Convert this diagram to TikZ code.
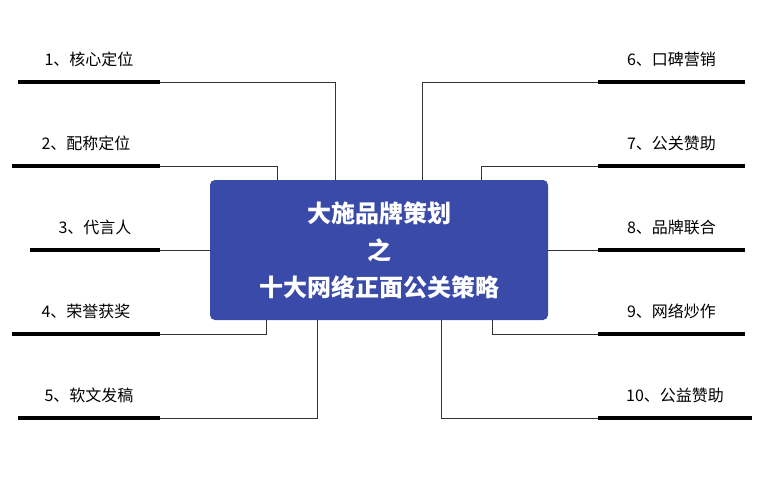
\documentclass[tikz,border=0pt]{standalone}
\usepackage{fontspec}
\setmainfont{Noto Sans CJK SC}
\begin{document}
\begin{tikzpicture}[x=1pt,y=-1pt]
	\useasboundingbox (0,0) rectangle (763,485);
	\tikzstyle{bar}=[line width=3.5pt,black];
	\tikzstyle{link}=[line width=0.7pt,black!80];
	\tikzstyle{lbl}=[font=\fontsize{16}{18}\selectfont,above,yshift=12pt,inner sep=1pt];
	\node (hub) [fill={rgb,255:red,58;green,74;blue,168},rounded corners=5pt,minimum width=338pt,minimum height=140pt,text=white,align=center,font=\fontsize{24}{37}\selectfont\bfseries] at (379,250) {大施品牌策划\\之\\十大网络正面公关策略};
	% left side
	\path (18 , 82) coordinate (l1s) (160, 82) coordinate (l1e);
	\path (12 ,166) coordinate (l2s) (160,166) coordinate (l2e);
	\path (30 ,250) coordinate (l3s) (160,250) coordinate (l3e);
	\path (12 ,334) coordinate (l4s) (160,334) coordinate (l4e);
	\path (18 ,418) coordinate (l5s) (160,418) coordinate (l5e);
	% right side
	\path (598, 82) coordinate (r6s) (745, 82) coordinate (r6e);
	\path (598,166) coordinate (r7s) (745,166) coordinate (r7e);
	\path (598,250) coordinate (r8s) (745,250) coordinate (r8e);
	\path (598,334) coordinate (r9s) (745,334) coordinate (r9e);
	\path (598,418) coordinate (r10s) (752,418) coordinate (r10e);
	\draw [bar] (l1s) -- (l1e) node [lbl,midway] (t1) {1、核心定位};
	\draw [bar] (l2s) -- (l2e) node [lbl,midway] (t2) {2、配称定位};
	\draw [bar] (l3s) -- (l3e) node [lbl,midway] (t3) {3、代言人};
	\draw [bar] (l4s) -- (l4e) node [lbl,midway] (t4) {4、荣誉获奖};
	\draw [bar] (l5s) -- (l5e) node [lbl,midway] (t5) {5、软文发稿};
	\draw [bar] (r6s) -- (r6e) node [lbl,midway] (t6) {6、口碑营销};
	\draw [bar] (r7s) -- (r7e) node [lbl,midway] (t7) {7、公关赞助};
	\draw [bar] (r8s) -- (r8e) node [lbl,midway] (t8) {8、品牌联合};
	\draw [bar] (r9s) -- (r9e) node [lbl,midway] (t9) {9、网络炒作};
	\draw [bar] (r10s) -- (r10e) node [lbl,midway] (t10) {10、公益赞助};
	% connectors
	\draw [link] (l1e) -| (hub.north -| 335,0);
	\draw [link] (l2e) -| (hub.north -| 277,0);
	\draw [link] (l3e) -- (hub.west);
	\draw [link] (l4e) -| (hub.south -| 266,0);
	\draw [link] (l5e) -| (hub.south -| 317,0);
	\draw [link] (r6s) -| (hub.north -| 422,0);
	\draw [link] (r7s) -| (hub.north -| 481,0);
	\draw [link] (r8s) -- (hub.east);
	\draw [link] (r9s) -| (hub.south -| 492,0);
	\draw [link] (r10s) -| (hub.south -| 441,0);
\end{tikzpicture}
\end{document}
